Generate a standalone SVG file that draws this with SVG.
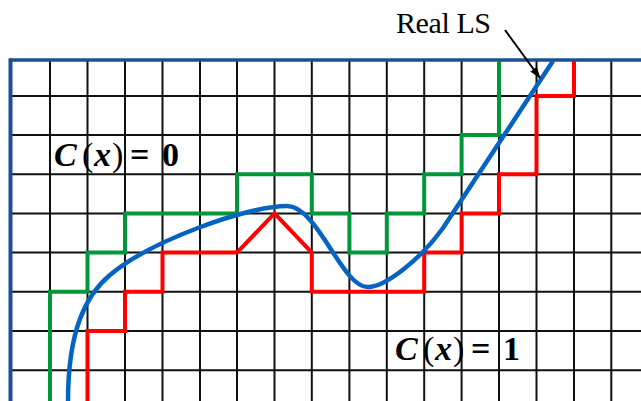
<svg xmlns="http://www.w3.org/2000/svg" width="641" height="401" viewBox="0 0 641 401">
<style>
.grid line{stroke:#111;stroke-width:2}
.step{fill:none;stroke-width:4;stroke-linejoin:miter}
.lbl{font-family:"Liberation Serif","Times New Roman",serif;font-size:30px;fill:#000}
.math{font-family:"Liberation Serif","Times New Roman",serif;font-size:34px;fill:#000}
.bi{font-weight:bold;font-style:italic}
.b{font-weight:bold}
</style>
<defs>
<marker id="ah" viewBox="0 0 12 10" refX="11" refY="5" markerWidth="6" markerHeight="5" orient="auto" markerUnits="strokeWidth">
<path d="M0,1 L12,5 L0,9 z" fill="#000"/>
</marker>
</defs>
<rect width="641" height="401" fill="#fff"/>
<g id="grid" class="grid">
<line x1="50" y1="60" x2="50" y2="401"/>
<line x1="87.5" y1="60" x2="87.5" y2="401"/>
<line x1="125" y1="60" x2="125" y2="401"/>
<line x1="162.5" y1="60" x2="162.5" y2="401"/>
<line x1="200" y1="60" x2="200" y2="401"/>
<line x1="237" y1="60" x2="237" y2="401"/>
<line x1="274.5" y1="60" x2="274.5" y2="401"/>
<line x1="311.8" y1="60" x2="311.8" y2="401"/>
<line x1="349.4" y1="60" x2="349.4" y2="401"/>
<line x1="386.8" y1="60" x2="386.8" y2="401"/>
<line x1="424.2" y1="60" x2="424.2" y2="401"/>
<line x1="461.6" y1="60" x2="461.6" y2="401"/>
<line x1="499" y1="60" x2="499" y2="401"/>
<line x1="536.5" y1="60" x2="536.5" y2="401"/>
<line x1="574" y1="60" x2="574" y2="401"/>
<line x1="611.3" y1="60" x2="611.3" y2="401"/>
<line x1="12" y1="96" x2="641" y2="96"/>
<line x1="12" y1="135" x2="641" y2="135"/>
<line x1="12" y1="174.2" x2="641" y2="174.2"/>
<line x1="12" y1="213.4" x2="641" y2="213.4"/>
<line x1="12" y1="252.6" x2="641" y2="252.6"/>
<line x1="12" y1="291.8" x2="641" y2="291.8"/>
<line x1="12" y1="331" x2="641" y2="331"/>
<line x1="12" y1="370.3" x2="641" y2="370.3"/>
</g>
<g id="border">
<line x1="9" y1="60" x2="641" y2="60" stroke="#1c4f8f" stroke-width="3.5"/>
<line x1="10.5" y1="58.5" x2="10.5" y2="401" stroke="#1c4f8f" stroke-width="4"/>
</g>
<g id="connectors">
<polyline id="green" class="step" stroke="#00963a" points="50,401 50,291.8 87.5,291.8 87.5,252.6 125,252.6 125,213.4 237,213.4 237,174.2 311.8,174.2 311.8,213.4 349.4,213.4 349.4,252.6 386.8,252.6 386.8,213.4 424.2,213.4 424.2,174.2 461.6,174.2 461.6,135 499,135 499,61"/>
<polyline id="red" class="step" stroke="#ff0000" points="87.5,401 87.5,331 125,331 125,291.8 162.5,291.8 162.5,252.6 237,252.6 274.5,213.4 311.8,252.6 311.8,291.8 424.2,291.8 424.2,252.6 461.6,252.6 461.6,213.4 499,213.4 499,174.2 536.5,174.2 536.5,96 574,96 574,61"/>
<path id="real-ls" fill="none" stroke="#0563c1" stroke-width="4.5" d="M68,401 C68,330 86,295 110,275 C150,241 247,206 287,206 C318,206 342,288 368,287 C385,287 420,260 443,228 C473,183 523,106 553,61"/>
<line id="arrow" x1="505" y1="30" x2="540" y2="78" stroke="#000" stroke-width="2" marker-end="url(#ah)"/>
</g>
<g id="labels">
<text id="real-ls-label" class="lbl" x="396" y="33" textLength="95">Real LS</text>
<text id="c0" class="math" y="166"><tspan class="bi" x="54">C</tspan><tspan x="82">(</tspan><tspan class="bi" x="94">x</tspan><tspan x="112">)</tspan><tspan class="b" x="130">=</tspan><tspan class="b" x="162">0</tspan></text>
<text id="c1" class="math" y="360"><tspan class="bi" x="395">C</tspan><tspan x="423">(</tspan><tspan class="bi" x="435">x</tspan><tspan x="453">)</tspan><tspan class="b" x="471">=</tspan><tspan class="b" x="503">1</tspan></text>
</g>
</svg>
